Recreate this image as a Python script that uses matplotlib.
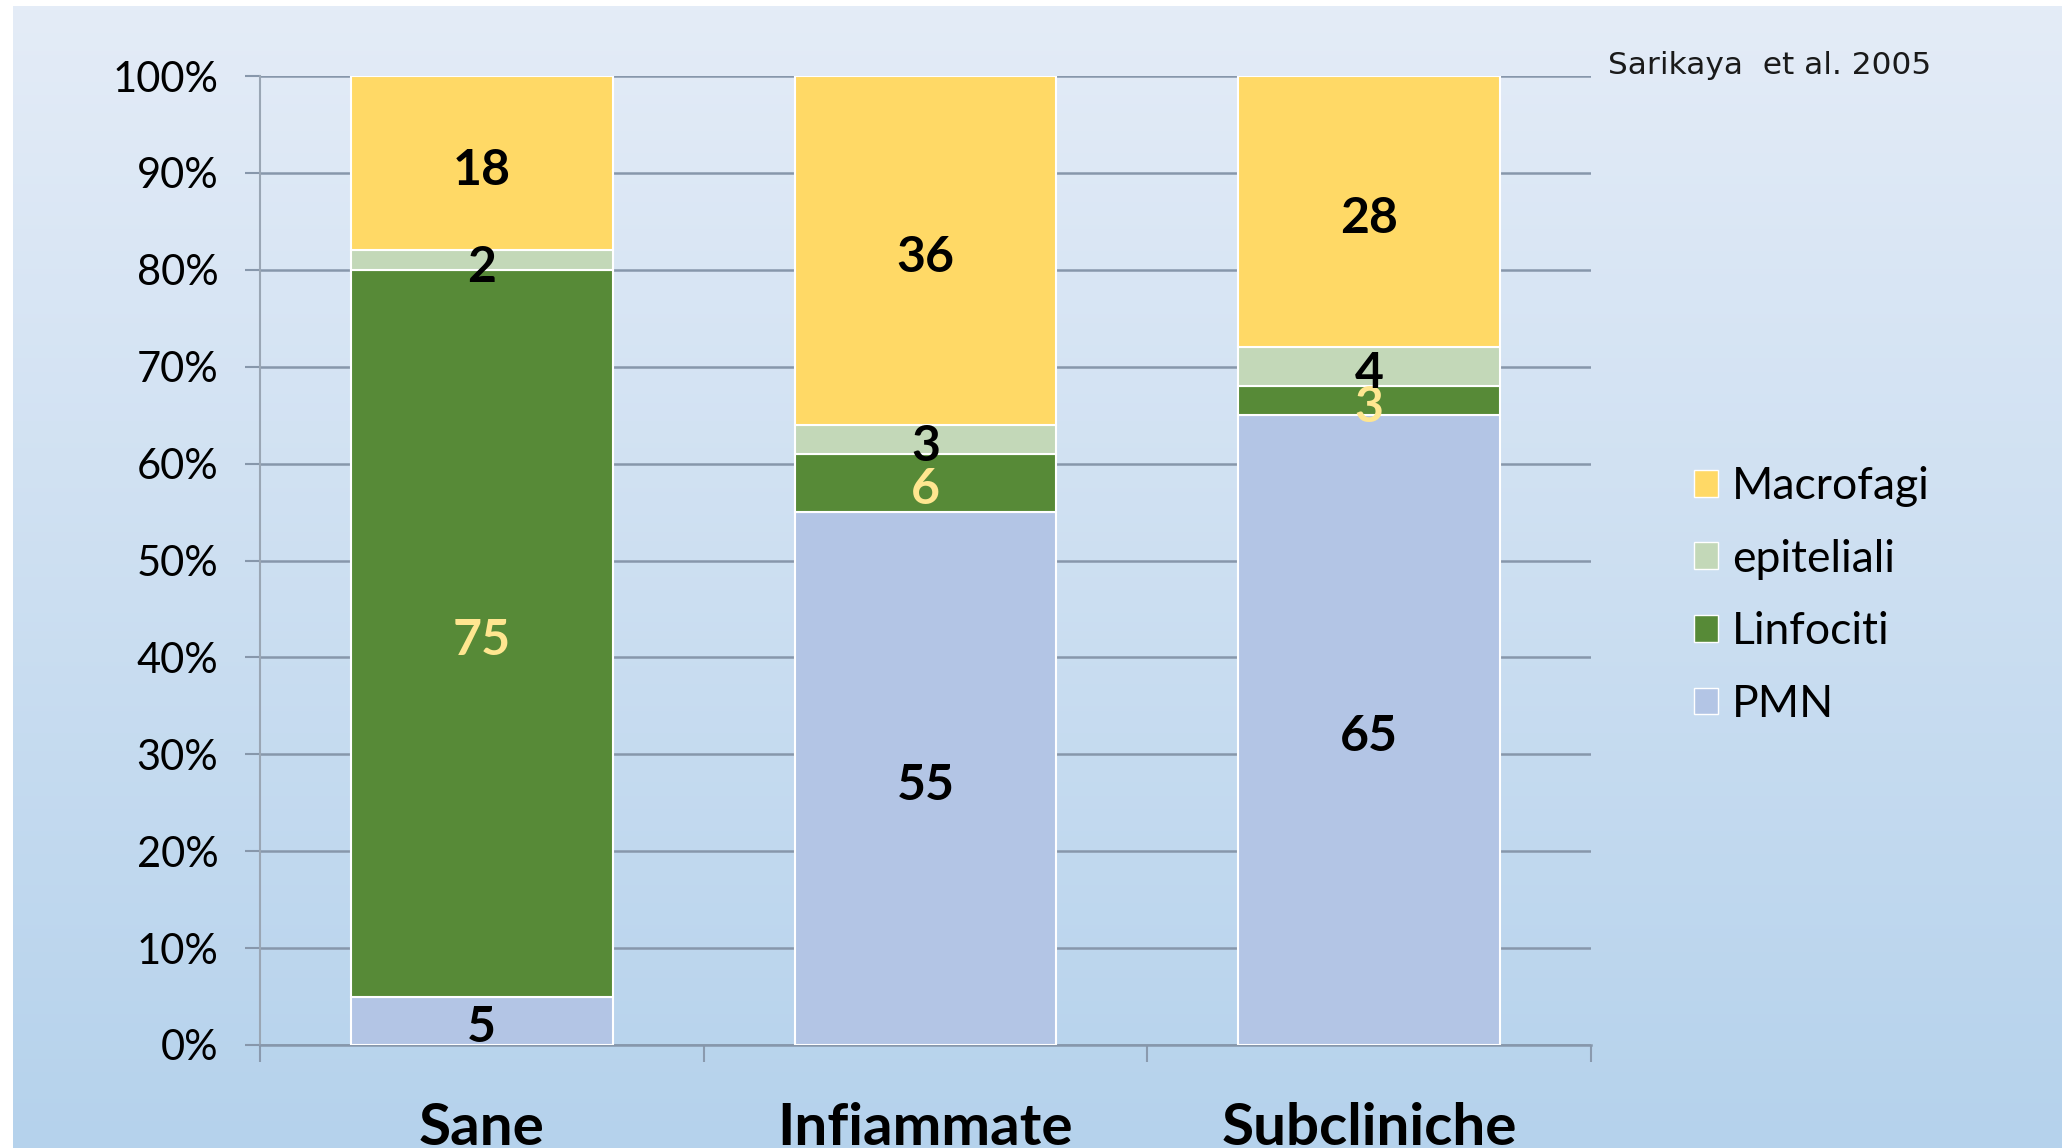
import numpy as np
import matplotlib
matplotlib.use("Agg")
import matplotlib.pyplot as plt
from matplotlib.patches import Patch

# data
categories = ['Sane', 'Infiammate', 'Subcliniche']
series_names = ['PMN', 'Linfociti', 'epiteliali', 'Macrofagi']
pmn = [5, 55, 65]
linfociti = [75, 6, 3]
epiteliali = [2, 3, 4]
macrofagi = [18, 36, 28]
yticks = [0, 10, 20, 30, 40, 50, 60, 70, 80, 90, 100]
source = 'Sarikaya  et al. 2005'

colors = {'PMN': '#b3c5e5', 'Linfociti': '#578a37',
          'epiteliali': '#c3d8b8', 'Macrofagi': '#ffd966'}
label_colors = {'PMN': 'black', 'Linfociti': '#ffe690',
                'epiteliali': 'black', 'Macrofagi': 'black'}

W, H = 2062, 1148
fig = plt.figure(figsize=(W / 100, H / 100), dpi=100)
fig.patch.set_facecolor('white')

# gradient background
bg = fig.add_axes([13 / W, 0, 1 - 13 / W, 1 - 6 / H])
top = np.array([228, 236, 247]) / 255.
bot = np.array([181, 210, 236]) / 255.
t = np.linspace(0, 1, 256)[:, None]
grad = top[None, :] * (1 - t) + bot[None, :] * t
bg.imshow(grad[:, None, :], aspect='auto', extent=[0, 1, 0, 1])
bg.set_axis_off()

ax = fig.add_axes([260 / W, 103 / H, (1591 - 260) / W, (1072 - 103) / H])
ax.set_facecolor('none')

x = np.arange(len(categories))
data = {'PMN': pmn, 'Linfociti': linfociti,
        'epiteliali': epiteliali, 'Macrofagi': macrofagi}
bottom = np.zeros(len(categories))
for name in series_names:
    vals = np.array(data[name], dtype=float)
    ax.bar(x, vals, 0.59, bottom=bottom, color=colors[name],
           edgecolor='white', linewidth=1.5, zorder=3)
    for xi, b, v in zip(x, bottom, vals):
        ax.text(xi, b + v / 2 - 0.3, str(int(v)), ha='center',
                va='center_baseline', fontsize=36, fontweight='bold',
                color=label_colors[name], family='Lato', zorder=5)
    bottom += vals

ax.set_xlim(-0.5, 2.5)
ax.set_ylim(0, 100)
ax.set_yticks(yticks)
ax.set_yticklabels(['%d%%' % v for v in yticks], family='Lato', fontsize=30)
ax.grid(axis='y', color='#8797ab', linewidth=1.8, zorder=1)
ax.tick_params(axis='y', length=11, width=1.5, color='#8797ab', pad=19)

ax.set_xticks(x)
ax.set_xticklabels(categories, family='Lato', fontweight='bold', fontsize=42,
                   va='top')
ax.set_xticks([-0.5, 0.5, 1.5, 2.5], minor=True)
ax.tick_params(axis='x', which='major', length=0, pad=41)
ax.tick_params(axis='x', which='minor', length=12, width=1.5, color='#8a9aae')

for s in ['top', 'right']:
    ax.spines[s].set_visible(False)
ax.spines['left'].set_color('#9aa6b4')
ax.spines['left'].set_linewidth(1.5)
ax.spines['bottom'].set_color('#8797ab')
ax.spines['bottom'].set_linewidth(1.8)

handles = [Patch(facecolor=colors[n], edgecolor='white', label=n)
           for n in ['Macrofagi', 'epiteliali', 'Linfociti', 'PMN']]
fig.legend(handles=handles, loc='upper left',
           bbox_to_anchor=(1654 / W, 1 - 426 / H), frameon=False,
           prop={'family': 'Lato', 'size': 32}, handlelength=0.55,
           handleheight=0.55, handletextpad=0.3, labelspacing=0.71)

fig.text(1608 / W, 1 - 65 / H, source, ha='left', va='center',
         fontsize=22.5, family='DejaVu Sans', color='#1a1a1a')

fig.savefig('out.png', dpi=100)
